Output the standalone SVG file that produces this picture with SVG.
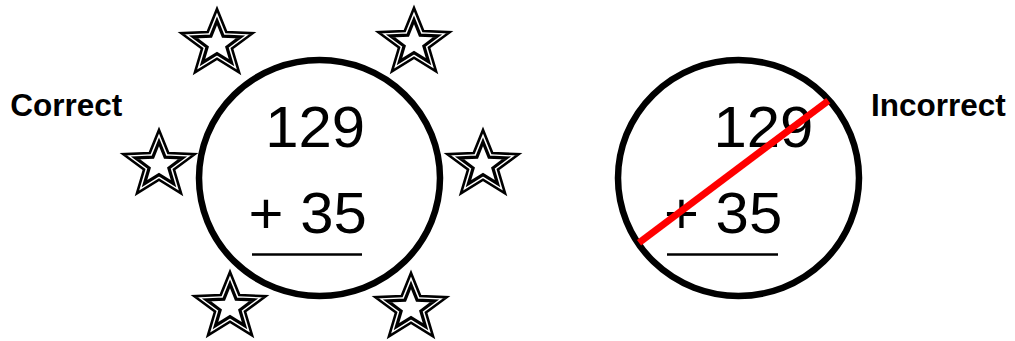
<svg xmlns="http://www.w3.org/2000/svg" xmlns:xlink="http://www.w3.org/1999/xlink" width="1015" height="341" viewBox="0 0 1015 341">
<style>
.bg{fill:#fff}
.ring{fill:#fff;stroke:#000;stroke-width:6.5}
.num{font-family:"Liberation Sans",Arial,sans-serif;font-size:56.5px;fill:#000}
.lbl{font-family:"Liberation Sans",Arial,sans-serif;font-size:31.5px;font-weight:bold;fill:#000}
.rule{stroke:#000;stroke-width:2.3}
.so{fill:#fff;stroke:#000;stroke-width:2.6;stroke-linejoin:miter;stroke-miterlimit:10}
.si{fill:#fff;stroke:#000;stroke-width:3.2;stroke-linejoin:miter;stroke-miterlimit:10}
.strike{stroke:#ff0000;stroke-width:7}
</style>
<defs>
<path id="star" vector-effect="non-scaling-stroke" d="M0,-1 L0.247,-0.34 L0.951,-0.309 L0.399,0.13 L0.588,0.809 L0,0.42 L-0.588,0.809 L-0.399,0.13 L-0.951,-0.309 L-0.247,-0.34 Z"/>
</defs>
<rect class="bg" x="0" y="0" width="1015" height="341"/>

<g id="label-correct"><text class="lbl" x="10.3" y="116">Correct</text></g>
<g id="label-incorrect"><text class="lbl" x="871" y="115.5">Incorrect</text></g>

<g id="stars">
<g id="star-tl" transform="translate(217,44) scale(37.5,35)"><use xlink:href="#star" class="so"/><use xlink:href="#star" class="si" transform="scale(0.66)"/></g>
<g id="star-tr" transform="translate(414,43) scale(37.5,35)"><use xlink:href="#star" class="so"/><use xlink:href="#star" class="si" transform="scale(0.66)"/></g>
<g id="star-ml" transform="translate(159,165) scale(37.5,35)"><use xlink:href="#star" class="so"/><use xlink:href="#star" class="si" transform="scale(0.66)"/></g>
<g id="star-mr" transform="translate(483,165) scale(37.5,35)"><use xlink:href="#star" class="so"/><use xlink:href="#star" class="si" transform="scale(0.66)"/></g>
<g id="star-bl" transform="translate(230,307) scale(37.5,35)"><use xlink:href="#star" class="so"/><use xlink:href="#star" class="si" transform="scale(0.66)"/></g>
<g id="star-br" transform="translate(411,308) scale(37.5,35)"><use xlink:href="#star" class="so"/><use xlink:href="#star" class="si" transform="scale(0.66)"/></g>
</g>

<g id="circle-correct">
<ellipse class="ring" cx="319.5" cy="178" rx="120.5" ry="118"/>
<text class="num" transform="translate(265.2,147) scale(1.06,1)">129</text>
<text class="num" transform="translate(248.6,233) scale(1.06,1)">+ 35</text>
<line class="rule" x1="252" y1="254.5" x2="362" y2="254.5"/>
</g>

<g id="circle-incorrect">
<ellipse class="ring" cx="738.5" cy="178" rx="120.5" ry="118"/>
<text class="num" transform="translate(713.5,147) scale(1.06,1)">129</text>
<text class="num" transform="translate(664,233) scale(1.06,1)">+ 35</text>
<line class="rule" x1="667" y1="254.5" x2="778" y2="254.5"/>
</g>

<g id="connectors">
<line class="strike" x1="639" y1="242.7" x2="828.3" y2="100.7"/>
</g>
</svg>
